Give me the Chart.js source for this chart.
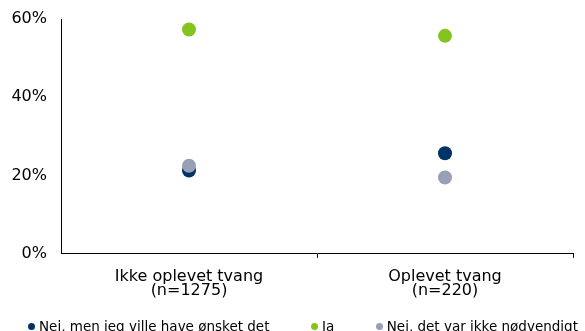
<!DOCTYPE html>
<html>
<head>
<meta charset="utf-8">
<script src="https://cdn.jsdelivr.net/npm/chart.js@4"></script>
<style>
  html, body { margin: 0; padding: 0; background: #fff; overflow: hidden; }
  #wrap { position: relative; width: 585px; height: 331px; overflow: hidden; }
  #legend { position: absolute; left: 28px; top: 318px; display: flex; white-space: nowrap;
    font-family: Verdana, "DejaVu Sans", sans-serif; font-size: 13.5px; line-height: 16px; color: #000; }
  #legend .item { display: flex; align-items: center; margin-right: 41.5px; }
  #legend .dot { width: 7px; height: 7px; border-radius: 50%; margin-right: 4px; flex: none; }
</style>
</head>
<body>
<div id="wrap">
  <canvas id="myChart" width="585" height="331"></canvas>
  <div id="legend"></div>
</div>
<script>
// data
const categories = [['Ikke oplevet tvang', '(n=1275)'], ['Oplevet tvang', '(n=220)']];
const seriesNames = ['Nei, men jeg ville have ønsket det', 'Ja', 'Nei, det var ikke nødvendigt'];
const nejMen = [21.3, 25.7];
const ja = [57.3, 55.7];
const nejIkke = [22.5, 19.5];
const yTicks = [0, 20, 40, 60];

const colors = ['#003466', '#84c41e', '#999fb4'];
const seriesValues = [nejMen, ja, nejIkke];
// grey is drawn on top of the dark blue
const drawOrder = [2, 1, 0];

const FONT = 'Verdana, "DejaVu Sans", sans-serif';

let datasets = [];
seriesNames.forEach((name, i) => {
    datasets.push({
        label: name,
        data: seriesValues[i],
        showLine: false,
        order: drawOrder[i],
        pointRadius: 7,
        pointHoverRadius: 7,
        pointBorderWidth: 0,
        backgroundColor: colors[i],
        borderColor: colors[i]
    });
});

var ctx = document.getElementById('myChart').getContext('2d');

var myChart = new Chart(ctx, {
    type: 'line',
    data: {
        labels: categories,
        datasets: datasets
    },
    options: {
        responsive: false,
        animation: false,
        events: [],
        layout: {
            padding: { top: 19, right: 12, bottom: 21, left: 0 }
        },
        plugins: {
            legend: { display: false },
            tooltip: { enabled: false }
        },
        scales: {
            x: {
                offset: true,
                grid: {
                    display: true,
                    offset: true,
                    drawOnChartArea: false,
                    drawTicks: true,
                    tickLength: 4,
                    // no tick mark under the y axis
                    color: (c) => c.index === 0 ? 'rgba(0,0,0,0)' : '#000',
                    lineWidth: 1
                },
                border: { display: true, color: '#000', width: 1 },
                ticks: {
                    color: '#000',
                    padding: 12.5,
                    maxRotation: 0,
                    font: { family: FONT, size: 16, lineHeight: 0.85 }
                }
            },
            y: {
                min: 0,
                max: 60,
                afterFit: function (scale) {
                    scale.width = 61;
                    scale.paddingTop = 0;
                    scale.paddingBottom = 0;
                },
                afterBuildTicks: function (scale) {
                    scale.ticks = yTicks.map(v => ({ value: v }));
                },
                grid: { display: false, drawTicks: false },
                border: { display: true, color: '#000', width: 1 },
                ticks: {
                    color: '#000',
                    padding: 14,
                    font: { family: FONT, size: 16 },
                    callback: function (value) {
                        return value + '%';
                    }
                }
            }
        }
    }
});

// legend below the plot
let legendDiv = document.getElementById('legend');
seriesNames.forEach((name, i) => {
    let item = document.createElement('div');
    item.className = 'item';
    let dot = document.createElement('span');
    dot.className = 'dot';
    dot.style.background = colors[i];
    let txt = document.createElement('span');
    txt.textContent = name;
    item.appendChild(dot);
    item.appendChild(txt);
    legendDiv.appendChild(item);
});
</script>
</body>
</html>
